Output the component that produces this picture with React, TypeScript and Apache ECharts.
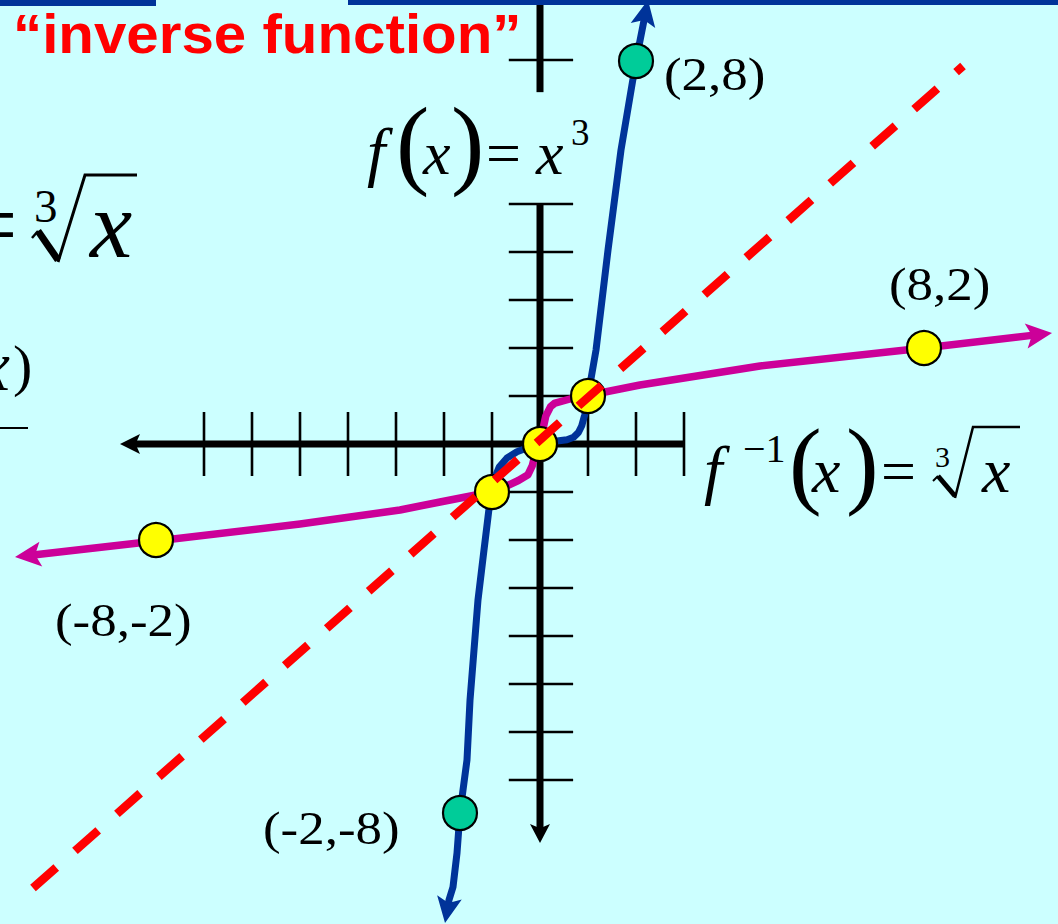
import React, { useEffect, useRef } from "react";
import * as echarts from "echarts";

// ---- data (graph units: 1 unit = one tick) ----
const cubeCurve: [number, number][] = [
  [-1.979, -9.979], [-1.896, -9.5], [-1.8125, -9.229], [-1.729, -8.521], [-1.667, -7.6875],
  [-1.604, -7.208], [-1.521, -6.583], [-1.458, -5.333], [-1.292, -3.25], [-1.167, -2.208],
  [-1.083, -1.521], [-1.021, -1.0], [-0.94, -0.7], [-0.85, -0.48], [-0.6875, -0.29],
  [-0.48, -0.16], [-0.271, -0.083], [0, 0], [0.354, 0.0625], [0.5625, 0.09], [0.7, 0.14],
  [0.8, 0.24], [0.87, 0.38], [0.93, 0.6], [1.0, 1.0],
  [1.167, 1.958], [1.417, 4.042], [1.6875, 6.125], [2.0, 7.979], [2.25, 9.25],
];
const rootCurve: [number, number][] = [
  [-10.9375, -2.354], [-8.0, -2.021], [-5.0, -1.667], [-2.917, -1.375],
  [-2.083, -1.208], [-1.021, -1.0], [-0.6875, -0.87], [-0.45, -0.76], [-0.25, -0.64],
  [-0.16, -0.45], [-0.11, -0.25], [0, 0], [0.06, 0.3], [0.12, 0.58], [0.22, 0.78],
  [0.3125, 0.854], [0.625, 0.9375], [1.0, 1.0],
  [1.354, 1.083], [2.083, 1.229], [4.583, 1.625], [8.0, 2.0], [10.667, 2.3125],
];
const identityLine: [number, number][] = [[-10.5625, -9.25], [8.8125, 7.875]];
const yellowPoints: [number, number][] = [[-8, -2], [-1, -1], [0, 0], [1, 1], [8, 2]];
const greenPoints: [number, number][] = [[2, 7.979], [-1.667, -7.6875]];
const xAxisLine: [number, number][] = [[-8.75, 0], [3, 0]];
const yAxisUpper: [number, number][] = [[0, 9.25], [0, 7.33]];
const yAxisLower: [number, number][] = [[0, 5.02], [0, -8.3125]];
const xTicks = [-7, -6, -5, -4, -3, -2, -1, 1, 2, 3];
const yTicks = [8, 5, 4, 3, 2, 1, -1, -2, -3, -4, -5, -6, -7];
const pointLabels = ["(2,8)", "(8,2)", "(-8,-2)", "(-2,-8)"];
const titleText = "\u201Cinverse function\u201D";

// ---- layout ----
const W = 1058, H = 924;
const UNIT = 48;
const ORIGIN_X = 540, ORIGIN_Y = 444;
const X_MIN = -ORIGIN_X / UNIT, X_MAX = (W - ORIGIN_X) / UNIT;
const Y_MIN = -(H - ORIGIN_Y) / UNIT, Y_MAX = ORIGIN_Y / UNIT;

const BLUE = "#003399";
const MAGENTA = "#CC0099";
const SERIF = '"Liberation Serif", "Times New Roman", serif';
const SANS = '"Liberation Sans", Arial, sans-serif';

type P = [number, number];

function arrowHead(tip: number[], prev: number[], L: number, Wd: number, color: string) {
  const dx = tip[0] - prev[0], dy = tip[1] - prev[1];
  const len = Math.hypot(dx, dy) || 1;
  const ux = dx / len, uy = dy / len;
  const nx = -uy, ny = ux;
  const bx = tip[0] - ux * L, by = tip[1] - uy * L;
  return {
    type: "polygon",
    shape: {
      points: [
        [tip[0], tip[1]],
        [bx + nx * Wd / 2, by + ny * Wd / 2],
        [tip[0] - ux * L * 0.78, tip[1] - uy * L * 0.78],
        [bx - nx * Wd / 2, by - ny * Wd / 2],
      ],
    },
    style: { fill: color, stroke: null },
  };
}

function shorten(tip: number[], prev: number[], by: number): number[] {
  const dx = tip[0] - prev[0], dy = tip[1] - prev[1];
  const len = Math.hypot(dx, dy) || 1;
  return [tip[0] - dx / len * by, tip[1] - dy / len * by];
}

function curveSeries(
  pts: P[], color: string, width: number, z: number,
  arrowStart: boolean, arrowEnd: boolean, L: number, Wd: number, cap = "round"
) {
  return {
    type: "custom",
    coordinateSystem: "cartesian2d",
    silent: true,
    z,
    clip: false,
    data: [pts[0]],
    renderItem: (_params: any, api: any) => {
      const px = pts.map((p) => api.coord(p));
      const n = px.length;
      const children: any[] = [];
      const linePts = px.slice();
      if (arrowStart) linePts[0] = shorten(px[0], px[1], L * 0.7);
      if (arrowEnd) linePts[n - 1] = shorten(px[n - 1], px[n - 2], L * 0.7);
      children.push({
        type: "polyline",
        shape: { points: linePts },
        style: { stroke: color, lineWidth: width, fill: null, lineJoin: "round", lineCap: cap },
      });
      if (arrowStart) children.push(arrowHead(px[0], px[1], L, Wd, color));
      if (arrowEnd) children.push(arrowHead(px[n - 1], px[n - 2], L, Wd, color));
      return { type: "group", children };
    },
  };
}

function tickSeries() {
  return {
    type: "custom",
    coordinateSystem: "cartesian2d",
    silent: true,
    z: 1,
    clip: false,
    data: [...xTicks.map((t) => [t, 0, 0]), ...yTicks.map((t) => [0, t, 1])],
    renderItem: (_params: any, api: any) => {
      const x = api.value(0), y = api.value(1), vertical = api.value(2) === 0;
      const a = vertical ? api.coord([x, -0.667]) : api.coord([-0.65, y]);
      const b = vertical ? api.coord([x, 0.667]) : api.coord([0.69, y]);
      return {
        type: "line",
        shape: { x1: a[0], y1: a[1], x2: b[0], y2: b[1] },
        style: { stroke: "#000", lineWidth: 2.6 },
      };
    },
  };
}

function txt(
  text: string, left: number, baseline: number, size: number,
  o: { italic?: boolean; bold?: boolean; family?: string; color?: string; scaleX?: number } = {}
) {
  const family = o.family || SERIF;
  const k = family === SANS ? 0.3465 : 0.3375;
  return {
    type: "text",
    x: left,
    y: baseline - k * size,
    scaleX: o.scaleX || 1,
    z: 100,
    silent: true,
    style: {
      text,
      x: 0,
      y: 0,
      font: `${o.italic ? "italic " : ""}${o.bold ? "bold " : ""}${size}px ${family}`,
      fill: o.color || "#000",
      align: "left",
      verticalAlign: "middle",
      textAlign: "left",
      textVerticalAlign: "middle",
    },
  };
}

function line(x1: number, y1: number, x2: number, y2: number, w: number) {
  return {
    type: "line", z: 100, silent: true,
    shape: { x1, y1, x2, y2 },
    style: { stroke: "#000", lineWidth: w, lineCap: "butt" },
  };
}
function poly(points: number[][], w: number) {
  return {
    type: "polyline", z: 100, silent: true,
    shape: { points },
    style: { stroke: "#000", lineWidth: w, fill: null, lineJoin: "miter" },
  };
}

export default function App() {
  const ref = useRef<HTMLDivElement>(null);
  useEffect(() => {
    if (!ref.current) return;
    const chart = echarts.init(ref.current, undefined, { renderer: "svg" });

    const option: any = {
      animation: false,
      backgroundColor: "#CCFFFF",
      grid: { left: 0, right: 0, top: 0, bottom: 0, containLabel: false },
      xAxis: { type: "value", min: X_MIN, max: X_MAX, show: false },
      yAxis: { type: "value", min: Y_MIN, max: Y_MAX, show: false },
      series: [
        // axes
        curveSeries(xAxisLine, "#000", 7, 1, true, false, 20, 20, "butt"),
        curveSeries(yAxisLower, "#000", 7, 1, false, true, 19, 20, "butt"),
        curveSeries(yAxisUpper, "#000", 7, 1, false, false, 0, 0, "butt"),
        tickSeries(),
        // curves
        curveSeries(rootCurve, MAGENTA, 7.5, 3, true, true, 26, 25),
        curveSeries(cubeCurve, BLUE, 7, 3, true, true, 26, 25),
        // points
        {
          type: "scatter", silent: true, z: 5, symbolSize: 34,
          itemStyle: { color: "#FFFF00", borderColor: "#000", borderWidth: 2.2, opacity: 1 },
          data: yellowPoints,
        },
        {
          type: "scatter", silent: true, z: 5, symbolSize: 34,
          itemStyle: { color: "#00CC99", borderColor: "#000", borderWidth: 2.2, opacity: 1 },
          data: greenPoints,
        },
        // y = x
        {
          type: "line", silent: true, z: 6, showSymbol: false, symbol: "none",
          lineStyle: { color: "#FF0000", width: 8.5, type: [31, 25], dashOffset: 0, cap: "butt" },
          data: identityLine,
        },
      ],
      graphic: [
        { type: "rect", z: 100, silent: true, shape: { x: 0, y: 0, width: 156, height: 6 }, style: { fill: BLUE } },
        { type: "rect", z: 100, silent: true, shape: { x: 348, y: 0, width: 710, height: 5 }, style: { fill: BLUE } },
        txt(titleText, 13, 53, 55, { bold: true, family: SANS, color: "#FF0000", scaleX: 1.06 }),
        // point labels
        txt(pointLabels[0], 664, 90, 46, { scaleX: 1.15 }),
        txt(pointLabels[1], 889, 300, 46, { scaleX: 1.15 }),
        txt(pointLabels[2], 55, 636, 46, { scaleX: 1.15 }),
        txt(pointLabels[3], 263, 844, 46, { scaleX: 1.15 }),
        // f(x) = x^3
        txt("f", 367, 174, 66, { italic: true }),
        txt("(", 396, 176, 100),
        txt("x", 423, 174, 62, { italic: true }),
        txt(")", 451, 176, 100),
        txt("=", 486, 174, 62),
        txt("x", 536, 174, 62, { italic: true }),
        txt("3", 571, 145, 37),
        // f^-1(x) = cbrt x
        txt("f", 704, 492, 66, { italic: true }),
        txt("\u22121", 743, 462, 40),
        txt("(", 789, 496, 98),
        txt("x", 812, 492, 64, { italic: true }),
        txt(")", 846, 496, 98),
        txt("=", 881, 492, 62),
        txt("3", 935, 467, 30),
        line(933, 481, 938, 476, 2),
        line(938, 476, 955, 496, 5),
        poly([[955, 498], [973, 427], [1020, 427]], 2.5),
        txt("x", 982, 492, 64, { italic: true }),
        // left fragment: = cbrt x
        txt("=", -36, 257, 95),
        txt("3", 34, 222, 47),
        line(32, 238, 38, 231, 2.5),
        line(38, 231, 58, 260, 7),
        poly([[58, 262], [85, 175], [137, 175]], 3),
        txt("x", 90, 257, 95, { italic: true }),
        // left fragment: x)
        txt("x", -22, 390, 72, { italic: true }),
        txt(")", 13, 385, 58),
        line(0, 428, 28, 428, 2),
      ],
    };
    chart.setOption(option);
    return () => chart.dispose();
  }, []);
  return <div ref={ref} style={{ position: "absolute", left: 0, top: 0, width: W, height: H }} />;
}
